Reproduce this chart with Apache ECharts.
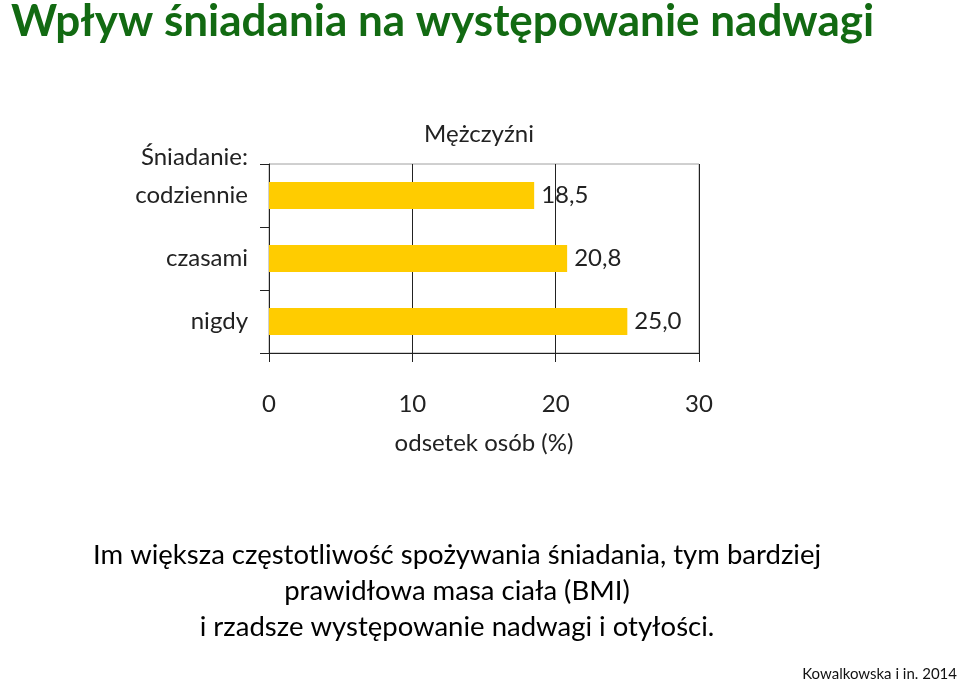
<!DOCTYPE html>
<html><head><meta charset="utf-8">
<script src="https://cdn.jsdelivr.net/npm/echarts@6/dist/echarts.min.js"></script>
<style>html,body{margin:0;padding:0;background:#fff}#c{width:960px;height:684px}</style>
</head><body><div id="c"></div>
<script>
const categories = ['codziennie', 'czasami', 'nigdy'];
const values = [18.5, 20.8, 25.0];
const xTicks = [0, 10, 20, 30];
const seriesName = 'Mężczyźni';
const titleText = 'Wpływ śniadania na występowanie nadwagi';
const noteLines = ['Im większa częstotliwość spożywania śniadania, tym bardziej', 'prawidłowa masa ciała (BMI)', 'i rzadsze występowanie nadwagi i otyłości.'];
const source = 'Kowalkowska i in. 2014';

const FONT = 'Lato, "Open Sans", sans-serif';
const noteRich = noteLines.map((l, i) => {
  if (i === noteLines.length - 1 && l.endsWith('.')) return '{n|' + l.slice(0, -1) + '}{g|.}';
  return '{n|' + l + '}';
}).join('\n');

const chart = echarts.init(document.getElementById('c'));
chart.setOption({
  backgroundColor: '#fff',
  animation: false,
  title: [
    {text: titleText, left: 6, top: -5, textStyle: {fontFamily: FONT, fontWeight: 'bold', fontSize: 44, color: '#126a12'}},
    {text: seriesName, left: 474, top: 117, textAlign: 'center', textStyle: {fontFamily: FONT, fontWeight: 'normal', fontSize: 24, color: '#222'}}
  ],
  grid: {left: 269, right: 261, top: 164, bottom: 331, show: true, borderColor: '#a0a0a0', borderWidth: 1, containLabel: false},
  xAxis: {
    type: 'value', min: 0, max: 30, interval: 10,
    name: 'odsetek osób (%)', nameLocation: 'middle', nameGap: 78,
    nameTextStyle: {fontFamily: FONT, fontSize: 24, color: '#222'},
    axisLine: {show: true, lineStyle: {color: '#222', width: 1}},
    axisTick: {show: true, length: 9, lineStyle: {color: '#222'}},
    axisLabel: {fontFamily: FONT, fontSize: 24, color: '#222', margin: 39,
      formatter: v => xTicks.includes(v) ? String(v) : ''},
    splitLine: {show: true, lineStyle: {color: '#222', width: 1}}
  },
  yAxis: {
    type: 'category', data: categories, inverse: true,
    axisLine: {show: true, lineStyle: {color: '#222', width: 1}},
    axisTick: {show: true, length: 9, inside: false, lineStyle: {color: '#222'}},
    axisLabel: {fontFamily: FONT, fontSize: 24, color: '#222', margin: 21}
  },
  series: [{
    name: seriesName, type: 'bar', data: values, barCategoryGap: '57%',
    itemStyle: {color: '#ffcc00'},
    label: {show: true, position: 'right', distance: 7, fontFamily: FONT, fontSize: 24, color: '#222',
      formatter: p => p.value.toFixed(1).replace('.', ',')}
  }],
  graphic: [
    {type: 'text', x: 248, y: 145, style: {text: 'Śniadanie:', font: '24px ' + FONT, fill: '#222', textAlign: 'right'}},
    {type: 'text', x: 457, y: 537, style: {text: noteRich, textAlign: 'center',
      rich: {
        n: {fontFamily: FONT, fontSize: 27.5, lineHeight: 36, color: '#111'},
        g: {fontFamily: FONT, fontSize: 27.5, lineHeight: 36, color: '#2e8b2e'}
      }}},
    {type: 'text', x: 957, y: 667, style: {text: source, font: '15px ' + FONT, fill: '#111', textAlign: 'right'}}
  ]
});
</script></body></html>
